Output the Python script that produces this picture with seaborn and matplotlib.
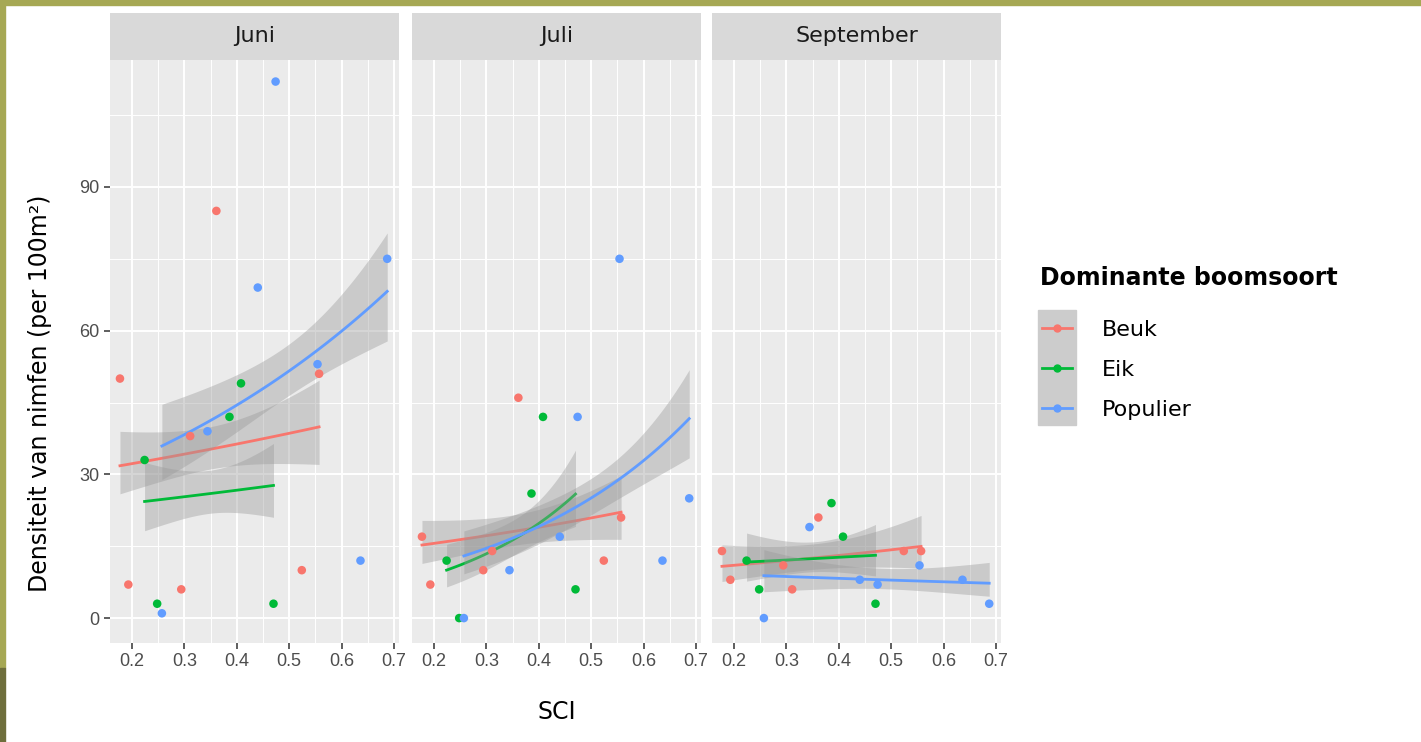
import numpy as np
import pandas as pd
import matplotlib
matplotlib.use("Agg")
import matplotlib.pyplot as plt
from matplotlib.patches import Rectangle
from matplotlib.lines import Line2D
import seaborn as sns

# facets, soorten en kleuren (ggplot standaard)
months = ["Juni", "Juli", "September"]
species = ["Beuk", "Eik", "Populier"]
palette = ["#F8766D", "#00BA38", "#619CFF"]

# SCI per plot, per dominante boomsoort
sci_beuk = [0.177, 0.193, 0.294, 0.311, 0.361, 0.524, 0.557]
sci_eik = [0.224, 0.248, 0.386, 0.408, 0.470]
sci_populier = [0.257, 0.344, 0.440, 0.474, 0.554, 0.636, 0.687]

# densiteit van nimfen (per 100m2)
juni_beuk = [50, 7, 6, 38, 85, 10, 51]
juni_eik = [33, 3, 42, 49, 3]
juni_populier = [1, 39, 69, 112, 53, 12, 75]
juli_beuk = [17, 7, 10, 14, 46, 12, 21]
juli_eik = [12, 0, 26, 42, 6]
juli_populier = [0, 10, 17, 42, 75, 12, 25]
sept_beuk = [14, 8, 11, 6, 21, 14, 14]
sept_eik = [12, 6, 24, 17, 3]
sept_populier = [0, 19, 8, 7, 11, 8, 3]

x_ticks = [0.2, 0.3, 0.4, 0.5, 0.6, 0.7]
x_tick_labels = ["0.2", "0.3", "0.4", "0.5", "0.6", "0.7"]
y_ticks = [0, 30, 60, 90]
y_tick_labels = ["0", "30", "60", "90"]

sci = {"Beuk": sci_beuk, "Eik": sci_eik, "Populier": sci_populier}
dens = {
    "Juni": {"Beuk": juni_beuk, "Eik": juni_eik, "Populier": juni_populier},
    "Juli": {"Beuk": juli_beuk, "Eik": juli_eik, "Populier": juli_populier},
    "September": {"Beuk": sept_beuk, "Eik": sept_eik, "Populier": sept_populier},
}

rows = []
for m in months:
    for sp in species:
        for x, y in zip(sci[sp], dens[m][sp]):
            rows.append({"maand": m, "soort": sp, "SCI": x, "dens": y})
df = pd.DataFrame(rows)


def glm_poisson(x, y, n=80):
    # poisson glm met log link (IRLS), zoals geom_smooth(method = "glm")
    x = np.asarray(x, float)
    y = np.asarray(y, float)
    X = np.column_stack([np.ones_like(x), x])
    beta = np.array([np.log(y.mean()), 0.0])
    for _ in range(100):
        mu = np.exp(X @ beta)
        z = X @ beta + (y - mu) / mu
        XtW = X.T * mu
        new = np.linalg.solve(XtW @ X, XtW @ z)
        if np.max(np.abs(new - beta)) < 1e-10:
            beta = new
            break
        beta = new
    mu = np.exp(X @ beta)
    cov = np.linalg.inv((X.T * mu) @ X)
    grid = np.linspace(x.min(), x.max(), n)
    G = np.column_stack([np.ones_like(grid), grid])
    eta = G @ beta
    se = np.sqrt(np.einsum("ij,jk,ik->i", G, cov, G))
    return grid, np.exp(eta), np.exp(eta - 1.96 * se), np.exp(eta + 1.96 * se)


W, H = 1421, 742
fig = plt.figure(figsize=(W / 100, H / 100), dpi=100)
fig.patch.set_facecolor("white")
plt.rcParams["font.family"] = ["DejaVu Sans"]

# kader van de dia
fig.patches.append(Rectangle((0, 1 - 5 / H), 1, 5 / H, transform=fig.transFigure,
                             color="#A6A854", zorder=0))
fig.patches.append(Rectangle((0, 74 / H), 5 / W, 1 - 74 / H, transform=fig.transFigure,
                             color="#A6A854", zorder=0))
fig.patches.append(Rectangle((0, 0), 5 / W, 74 / H, transform=fig.transFigure,
                             color="#6E6E3C", zorder=0))

lefts = [110, 412, 712]
pw = 289
top, bottom = 60, 643

for i, m in enumerate(months):
    ax = fig.add_axes([lefts[i] / W, 1 - bottom / H, pw / W, (bottom - top) / H])
    ax.set_facecolor("#EBEBEB")
    sub = df[df["maand"] == m]
    for k, sp in enumerate(species):
        d = sub[sub["soort"] == sp]
        gx, fit, lo, hi = glm_poisson(d["SCI"], d["dens"])
        ax.fill_between(gx, lo, hi, color="#999999", alpha=0.4, lw=0, zorder=2 + k * 0.1)
        sns.lineplot(x=gx, y=fit, color=palette[k], lw=2, ax=ax, zorder=2.05 + k * 0.1)
    sns.scatterplot(data=sub, x="SCI", y="dens", hue="soort", hue_order=species,
                    palette=palette, s=38, edgecolor="none", legend=False, ax=ax, zorder=5)

    ax.set_xlim(0.158, 0.7095)
    ax.set_ylim(-5.2, 116.5)
    ax.set_xticks(x_ticks)
    ax.set_xticklabels(x_tick_labels)
    ax.set_xticks([0.25, 0.35, 0.45, 0.55, 0.65], minor=True)
    ax.set_yticks(y_ticks)
    ax.set_yticklabels(y_tick_labels)
    ax.set_yticks([15, 45, 75, 105], minor=True)
    ax.grid(which="major", color="white", lw=1.4)
    ax.grid(which="minor", color="white", lw=0.7)
    ax.set_axisbelow(True)
    ax.tick_params(which="major", length=4.5, width=1.1, color="#333333",
                   labelcolor="#4D4D4D", labelsize=13, pad=3)
    ax.tick_params(which="minor", length=0)
    if i > 0:
        ax.tick_params(axis="y", which="major", length=0, labelleft=False)
    for lab in ax.get_xticklabels() + ax.get_yticklabels():
        lab.set_fontfamily("Liberation Sans")
    for s in ax.spines.values():
        s.set_visible(False)
    ax.set_xlabel("")
    ax.set_ylabel("")

    # strip
    sax = fig.add_axes([lefts[i] / W, 1 - top / H, pw / W, 47 / H])
    sax.set_facecolor("#D9D9D9")
    sax.set_xticks([])
    sax.set_yticks([])
    for s in sax.spines.values():
        s.set_visible(False)
    sax.text(0.5, 0.5, m, ha="center", va="center", fontsize=16, color="#1A1A1A")

fig.text(40 / W, 1 - 393 / H, "Densiteit van nimfen (per 100m²)", rotation=90,
         ha="center", va="center", fontsize=17)
fig.text(557 / W, 1 - 712 / H, "SCI", ha="center", va="center", fontsize=17)

# legende
fig.text(1040 / W, 1 - 278 / H, "Dominante boomsoort", ha="left", va="center",
         fontsize=17, fontweight="bold")
fig.patches.append(Rectangle((1038 / W, 1 - 425 / H), 38 / W, 115 / H,
                             transform=fig.transFigure, color="#CCCCCC", zorder=1))
handles = [Line2D([], [], color=c, lw=2, marker="o", markersize=5) for c in palette]
fig.legend(handles, species, loc="center left", bbox_to_anchor=(1042 / W, 1 - 370 / H),
           frameon=False, fontsize=16, handlelength=1.35, handletextpad=1.35,
           labelspacing=0.9, borderpad=0, borderaxespad=0)

fig.savefig("out.png", dpi=100)
